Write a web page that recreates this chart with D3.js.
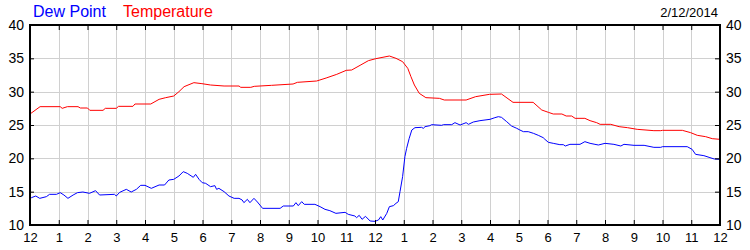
<!DOCTYPE html>
<html>
<head>
<meta charset="utf-8">
<script src="https://cdn.jsdelivr.net/npm/d3@7"></script>
<style>
  body { margin: 0; background: #fff; }
  svg { display: block; font-family: "Liberation Sans", Arial, sans-serif; }
  .grid line { stroke: #d0d0d0; stroke-width: 1; }
  .axis path { display: none; }
  .axis line { stroke: #000; }
  .axis text { font-size: 13px; fill: #000; }
  .axis.yax text { font-size: 14px; }
</style>
</head>
<body>
<svg id="chart" width="750" height="250"></svg>
<script>
// ── DATA ────────────────────────────────────────────────────────────────
const hourLabels = ['12','1','2','3','4','5','6','7','8','9','10','11',
                    '12','1','2','3','4','5','6','7','8','9','10','11','12'];
const yTicks = [10, 15, 20, 25, 30, 35, 40];

const tempHours = [0,0.35,1.05,1.12,1.3,1.67,1.75,2.0,2.08,2.54,2.62,3.0,3.08,3.58,3.65,4.2,4.49,4.72,5.0,5.18,
  5.36,5.7,5.98,6.28,6.75,7.27,7.33,7.68,7.8,8.4,9.15,9.3,9.97,10.3,10.67,11.0,11.19,11.48,11.77,12.03,
  12.5,12.73,12.96,13.14,13.25,13.37,13.54,13.77,14.24,14.41,15.17,15.5,15.98,16.4,16.8,17.5,17.8,18.03,18.2,18.5,
  18.65,18.84,18.96,19.3,19.48,19.71,19.83,20.2,20.49,20.78,21.12,21.7,21.94,22.0,22.69,22.98,23.21,23.5,23.73,24.0];
const tempValues = [26.65,27.75,27.75,27.5,27.75,27.75,27.55,27.55,27.2,27.2,27.5,27.5,27.8,27.8,28.15,28.15,28.85,29.1,29.35,30.0,
  30.75,31.35,31.2,31.0,30.85,30.85,30.65,30.65,30.8,30.95,31.15,31.4,31.6,32.05,32.6,33.2,33.25,33.95,34.65,34.95,
  35.35,35.0,34.5,33.5,32.25,31.0,29.75,29.1,29.0,28.75,28.75,29.25,29.6,29.65,28.4,28.4,27.25,26.9,26.65,26.65,
  26.35,26.35,26.0,26.0,25.65,25.35,25.1,25.1,24.75,24.6,24.35,24.15,24.15,24.2,24.2,23.85,23.45,23.25,22.95,22.85];

const dewHours = [0,0.05,0.2,0.34,0.57,0.68,0.92,1.05,1.18,1.32,1.5,1.65,1.84,2.07,2.28,2.42,2.94,3.0,3.12,3.35,
  3.52,3.7,3.85,4.0,4.22,4.49,4.68,4.83,5.0,5.18,5.33,5.47,5.68,5.76,5.88,5.99,6.11,6.28,6.43,6.49,
  6.57,6.75,6.92,7.1,7.27,7.38,7.44,7.56,7.65,7.79,7.91,8.09,8.7,8.81,9.16,9.25,9.33,9.45,9.54,9.91,
  10.09,10.26,10.43,10.64,10.96,11.07,11.3,11.36,11.45,11.55,11.67,11.83,12.0,12.12,12.2,12.27,12.41,12.5,12.64,12.73,
  12.81,12.87,12.96,13.04,13.1,13.19,13.28,13.39,13.62,13.68,13.74,13.91,13.97,14.32,14.38,14.67,14.78,14.96,15.17,15.25,
  15.42,15.65,16.0,16.17,16.29,16.4,16.58,16.75,16.93,17.04,17.16,17.33,17.51,17.68,17.85,17.91,18.03,18.2,18.43,18.55,
  18.62,18.78,19.13,19.3,19.48,19.65,19.77,20.0,20.31,20.55,20.66,21.01,21.36,21.7,21.94,22.0,22.86,23.03,23.15,23.44,
  23.62,23.8,24.0];
const dewValues = [14.25,14.1,14.35,14.0,14.25,14.6,14.6,14.85,14.5,14.0,14.5,14.85,14.95,14.75,15.15,14.5,14.6,14.35,14.9,15.35,
  14.95,15.35,15.95,15.95,15.5,16.0,16.0,16.75,16.85,17.35,18.0,17.75,17.15,17.6,16.85,16.35,16.25,15.75,15.9,15.35,
  15.5,15.0,14.35,14.0,14.0,13.75,13.35,13.85,13.35,14.0,13.45,12.5,12.5,12.85,12.85,13.35,12.9,13.5,13.1,13.1,
  12.75,12.35,12.15,11.75,11.9,11.6,11.35,11.1,11.45,10.85,11.3,10.6,10.55,10.75,11.25,10.75,11.75,12.75,12.9,13.25,
  13.5,15.0,17.25,20.25,21.5,23.0,24.25,24.6,24.65,24.5,24.75,24.9,25.05,24.95,25.05,25.05,25.35,25.0,25.35,25.1,
  25.45,25.65,25.85,26.1,26.25,26.15,25.5,24.85,24.5,24.25,24.0,24.0,23.75,23.45,23.1,22.85,22.4,22.25,22.05,22.05,
  21.85,22.1,22.1,22.5,22.25,22.1,22.0,22.25,22.1,21.85,22.1,21.95,21.95,21.65,21.65,21.75,21.75,21.35,20.6,20.4,
  20.15,19.9,19.85];

// ── LAYOUT ──────────────────────────────────────────────────────────────
const plotLeft = 30, plotRight = 720, plotTop = 25, plotBottom = 225;

const svg = d3.select('#chart');

const x = d3.scaleLinear().domain([0, 24]).range([plotLeft, plotRight]);
const y = d3.scaleLinear().domain([10, 40]).range([plotBottom, plotTop]);

// gridlines
const grid = svg.append('g').attr('class', 'grid');
grid.selectAll('line.v').data(d3.range(1, 24)).join('line')
  .attr('class', 'v')
  .attr('x1', d => Math.round(x(d)) + 0.5).attr('x2', d => Math.round(x(d)) + 0.5)
  .attr('y1', plotTop).attr('y2', plotBottom);
grid.selectAll('line.h').data(yTicks.slice(1, -1)).join('line')
  .attr('class', 'h')
  .attr('x1', plotLeft).attr('x2', plotRight)
  .attr('y1', d => Math.round(y(d)) + 0.5).attr('y2', d => Math.round(y(d)) + 0.5);

// series
const line = (hours, vals) => d3.line()
  .x((d, i) => x(hours[i]))
  .y(d => y(d))(vals);

svg.append('path')
  .attr('d', line(dewHours, dewValues))
  .attr('fill', 'none').attr('stroke', '#0000ff').attr('stroke-width', 1);

svg.append('path')
  .attr('d', line(tempHours, tempValues))
  .attr('fill', 'none').attr('stroke', '#ff0000').attr('stroke-width', 1);

// axes (ticks point inward)
svg.append('g').attr('class', 'axis')
  .attr('transform', `translate(0,${plotBottom})`)
  .call(d3.axisBottom(x).tickValues(d3.range(0, 25))
    .tickFormat((d, i) => hourLabels[i]).tickSize(-5).tickPadding(8).tickSizeOuter(0));

svg.append('g').attr('class', 'axis')
  .attr('transform', `translate(0,${plotTop})`)
  .call(d3.axisTop(x).tickValues(d3.range(1, 24)).tickFormat('').tickSize(-5).tickSizeOuter(0));

svg.append('g').attr('class', 'axis yax')
  .attr('transform', `translate(${plotLeft},0)`)
  .call(d3.axisLeft(y).tickValues(yTicks).tickSize(-4).tickPadding(6).tickSizeOuter(0));

svg.append('g').attr('class', 'axis yax')
  .attr('transform', `translate(${plotRight},0)`)
  .call(d3.axisRight(y).tickValues(yTicks).tickSize(-5).tickPadding(6).tickSizeOuter(0));

// frame
svg.append('rect')
  .attr('x', plotLeft).attr('y', plotTop)
  .attr('width', plotRight - plotLeft).attr('height', plotBottom - plotTop)
  .attr('fill', 'none').attr('stroke', '#000').attr('stroke-width', 2);

// legend + date
svg.append('text').attr('x', 33).attr('y', 17)
  .attr('font-size', 16).attr('fill', '#0000ff').text('Dew Point');
svg.append('text').attr('x', 123).attr('y', 17)
  .attr('font-size', 16).attr('fill', '#ff0000').text('Temperature');
svg.append('text').attr('x', 718).attr('y', 17)
  .attr('font-size', 13).attr('fill', '#000').attr('text-anchor', 'end').text('2/12/2014');
</script>
</body>
</html>
